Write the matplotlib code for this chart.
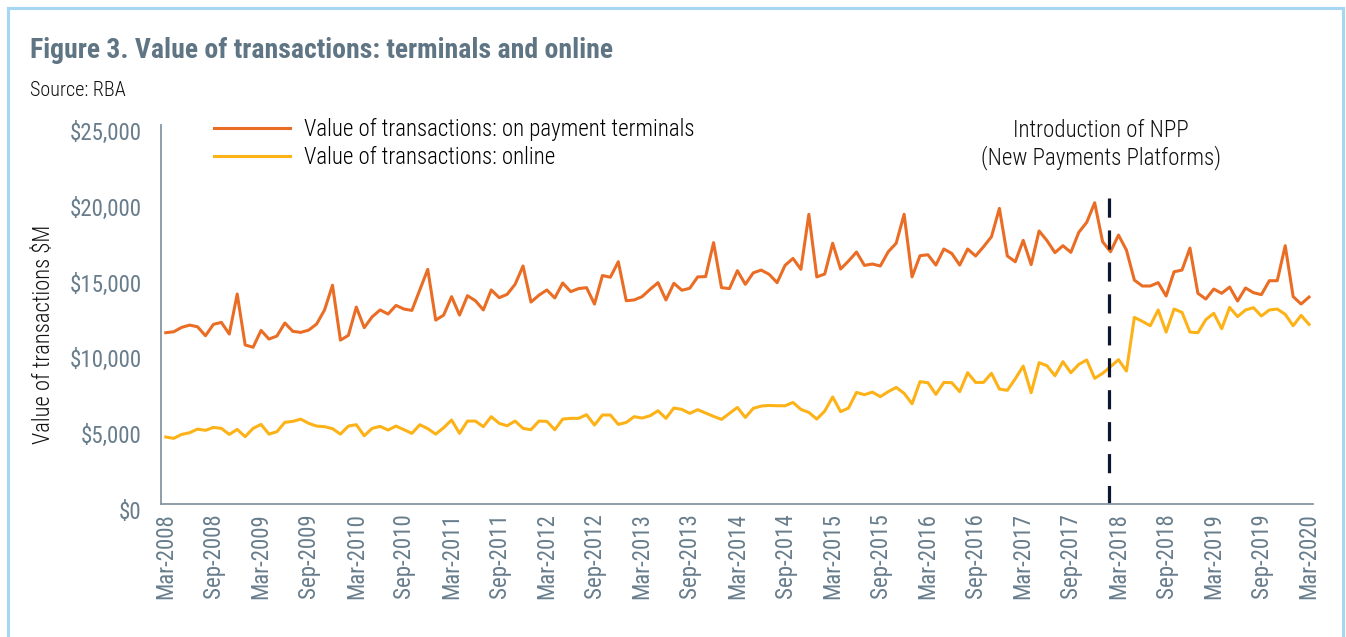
import matplotlib
matplotlib.use('Agg')
import matplotlib.pyplot as plt
import matplotlib.transforms as mtransforms
from matplotlib.lines import Line2D
import pandas as pd

# monthly data, Mar-2008 .. Mar-2020 ($M)
months = pd.date_range('2008-03-01', '2020-03-01', freq='MS')

terminals = [11300, 11360, 11650, 11800, 11690, 11100, 11850, 11980, 11210, 13850,
             10490, 10340, 11450, 10880, 11080, 11940, 11390, 11320, 11470, 11870,
             12800, 14430, 10810, 11120, 12990, 11630, 12350, 12800, 12530, 13100,
             12860, 12770, 14120, 15480, 12130, 12460, 13680, 12460, 13740, 13410,
             12800, 14120, 13610, 13830, 14490, 15700, 13320, 13770, 14120, 13590,
             14580, 14010, 14210, 14270, 13190, 15070, 14960, 15980, 13410, 13460,
             13680, 14160, 14600, 13460, 14560, 14100, 14230, 14980, 15000, 17240,
             14270, 14210, 15390, 14490, 15250, 15430, 15150, 14600, 15740, 16200,
             15480, 19110, 14980, 15170, 17200, 15500, 16030, 16620, 15740, 15830,
             15700, 16640, 17200, 19110, 14980, 16380, 16440, 15760, 16820, 16530,
             15760, 16820, 16360, 16970, 17630, 19500, 16360, 15980, 17390, 15790,
             18010, 17370, 16580, 17040, 16600, 17920, 18580, 19870, 17300, 16640,
             17740, 16750, 14770, 14380, 14380, 14600, 13720, 15320, 15430, 16880,
             13900, 13520, 14180, 13900, 14310, 13390, 14250, 13940, 13810, 14730,
             14730, 17040, 13680, 13190, 13650]

online = [4420, 4330, 4590, 4700, 4940, 4860, 5050, 4990, 4590, 4920,
          4440, 4990, 5250, 4610, 4770, 5390, 5450, 5600, 5320, 5140,
          5100, 4970, 4610, 5140, 5230, 4500, 4990, 5120, 4880, 5140,
          4900, 4660, 5230, 4970, 4610, 5030, 5540, 4660, 5470, 5470,
          5100, 5760, 5320, 5160, 5470, 4990, 4900, 5470, 5450, 4900,
          5600, 5650, 5650, 5890, 5210, 5870, 5870, 5250, 5380, 5760,
          5670, 5820, 6150, 5650, 6330, 6240, 5980, 6220, 6000, 5780,
          5580, 5980, 6370, 5710, 6310, 6460, 6500, 6480, 6480, 6700,
          6240, 6040, 5600, 6130, 7060, 6090, 6330, 7360, 7210, 7380,
          7080, 7410, 7690, 7300, 6610, 8070, 8000, 7230, 8020, 8000,
          7410, 8660, 8020, 8020, 8620, 7580, 7500, 8260, 9100, 7340,
          9320, 9120, 8460, 9390, 8660, 9210, 9500, 8290, 8620, 9060,
          9520, 8770, 12310, 12050, 11760, 12800, 11340, 12860, 12640, 11340,
          11300, 12160, 12580, 11560, 12970, 12360, 12800, 12950, 12400, 12800,
          12860, 12510, 11760, 12440, 11850]

tick_labels = [d.strftime('%b-%Y') for d in months[::6]]
y_ticks = [0, 5000, 10000, 15000, 20000, 25000]
y_tick_labels = ['$0', '$5,000', '$10,000', '$15,000', '$20,000', '$25,000']
npp_pos = 118.75      # NPP launch, Feb-2018
npp_top = 20200

plt.rcParams['font.family'] = ['Roboto Condensed', 'Roboto', 'DejaVu Sans']

fig = plt.figure(figsize=(13.46, 6.37), dpi=100)
ax = fig.add_axes([161/1346, 1 - 504/637, (1313 - 161)/1346, 379/637])

x = list(range(len(months)))
ax.plot(x, terminals, color='#ea6d25', lw=2.2, label='Value of transactions: on payment terminals')
ax.plot(x, online, color='#fdb218', lw=2.2, label='Value of transactions: online')
ax.plot([npp_pos, npp_pos], [npp_top, 0], color='#0b1631', lw=2.3, dashes=(6, 4))

ax.set_xlim(-0.6, 144.5)
ax.set_ylim(0, 25000)
ax.set_xticks(x[::6])
ax.set_xticklabels(tick_labels, rotation=90)
ax.set_yticks(y_ticks)
ax.set_yticklabels(y_tick_labels)
ax.tick_params(axis='both', length=0, labelcolor='#687d8c', labelsize=16.5)
ax.tick_params(axis='y', pad=14)
ax.tick_params(axis='x', pad=6.5)
# labels in the original sit a little below their values
shift = mtransforms.ScaledTranslation(0, -6/100, fig.dpi_scale_trans)
for lab in ax.get_yticklabels():
    lab.set_transform(lab.get_transform() + shift)

for s in ['top', 'right']:
    ax.spines[s].set_visible(False)
for s in ['left', 'bottom']:
    ax.spines[s].set_color('#8796a3')
    ax.spines[s].set_linewidth(1.3)

fig.text(44/1346, 1 - 334/637, 'Value of transactions $M', rotation=90,
         ha='center', va='center', fontsize=16.3, color='#111111', fontweight='light')

ax.legend(loc='center left', bbox_to_anchor=(214/1346, 1 - 143.5/637),
          bbox_transform=fig.transFigure, frameon=False, borderpad=0,
          borderaxespad=0, handlelength=3.3, handletextpad=0.62,
          labelspacing=0.2, prop={'size': 16.5, 'weight': 'light'})

fig.text(1101/1346, 1 - 144.5/637, 'Introduction of NPP\n(New Payments Platforms)',
         ha='center', va='center', fontsize=16.6, fontweight='light',
         color='#111111', linespacing=1.2)

fig.text(30/1346, 1 - 58/637, 'Figure 3. Value of transactions: terminals and online',
         fontsize=20, fontweight='bold', color='#5f7584', va='baseline')
fig.text(30/1346, 1 - 96/637, 'Source: RBA', fontsize=14.5, fontweight='light',
         color='#111111', va='baseline')

# light blue frame round the figure
frame = '#a6d6f1'
fig.add_artist(Line2D([8/1346, 8/1346], [0, 1 - 8/637], color=frame, lw=2.2, transform=fig.transFigure))
fig.add_artist(Line2D([8/1346, 1343/1346], [1 - 8/637, 1 - 8/637], color=frame, lw=2.2, transform=fig.transFigure))
fig.add_artist(Line2D([1343/1346, 1343/1346], [0, 1 - 8/637], color=frame, lw=2.2, transform=fig.transFigure))

fig.savefig('out.png', dpi=100)
